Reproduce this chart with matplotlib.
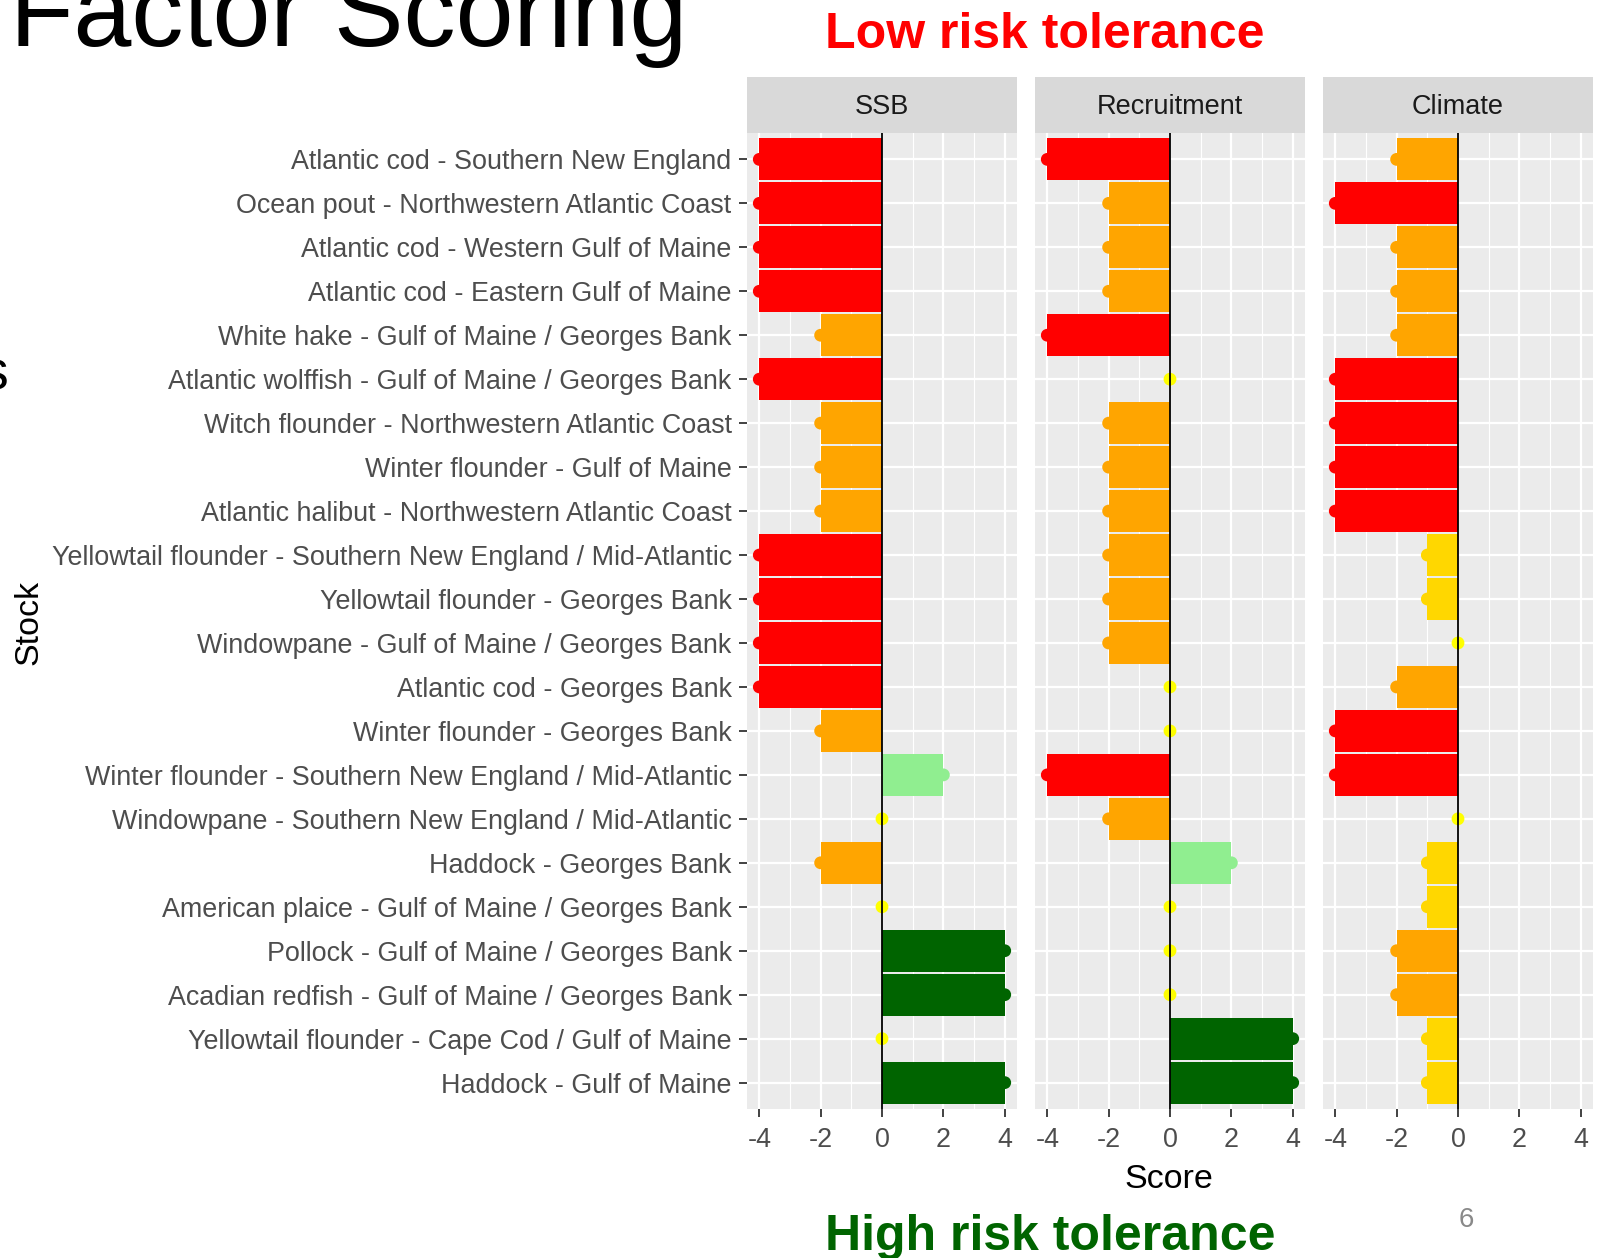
import numpy as np
import matplotlib
matplotlib.use("Agg")
import matplotlib.pyplot as plt

plt.rcParams['font.family'] = ['Liberation Sans', 'DejaVu Sans']
plt.rcParams['axes.unicode_minus'] = False

stocks = [
    "Atlantic cod - Southern New England",
    "Ocean pout - Northwestern Atlantic Coast",
    "Atlantic cod - Western Gulf of Maine",
    "Atlantic cod - Eastern Gulf of Maine",
    "White hake - Gulf of Maine / Georges Bank",
    "Atlantic wolffish - Gulf of Maine / Georges Bank",
    "Witch flounder - Northwestern Atlantic Coast",
    "Winter flounder - Gulf of Maine",
    "Atlantic halibut - Northwestern Atlantic Coast",
    "Yellowtail flounder - Southern New England / Mid-Atlantic",
    "Yellowtail flounder - Georges Bank",
    "Windowpane - Gulf of Maine / Georges Bank",
    "Atlantic cod - Georges Bank",
    "Winter flounder - Georges Bank",
    "Winter flounder - Southern New England / Mid-Atlantic",
    "Windowpane - Southern New England / Mid-Atlantic",
    "Haddock - Georges Bank",
    "American plaice - Gulf of Maine / Georges Bank",
    "Pollock - Gulf of Maine / Georges Bank",
    "Acadian redfish - Gulf of Maine / Georges Bank",
    "Yellowtail flounder - Cape Cod / Gulf of Maine",
    "Haddock - Gulf of Maine",
]
ssb = [-4, -4, -4, -4, -2, -4, -2, -2, -2, -4, -4, -4, -4, -2, 2, 0, -2, 0, 4, 4, 0, 4]
recruitment = [-4, -2, -2, -2, -4, 0, -2, -2, -2, -2, -2, -2, 0, 0, -4, -2, 2, 0, 0, 0, 4, 4]
climate = [-2, -4, -2, -2, -2, -4, -4, -4, -4, -1, -1, 0, -2, -4, -4, 0, -1, -1, -2, -2, -1, -1]
factors = ["SSB", "Recruitment", "Climate"]
x_ticks = [-4, -2, 0, 2, 4]

score_colors = {-4: "#FF0000", -2: "#FFA500", -1: "#FFD700", 0: "#FFFF00",
                2: "#90EE90", 4: "#006400"}

W, H = 1611, 1258
fig = plt.figure(figsize=(W / 100, H / 100), dpi=100)
fig.patch.set_facecolor("white")

panel_left = [747, 1035, 1323]
panel_w = 270
top, bottom = 133, 1109
strip_top = 77
ypos = np.arange(len(stocks))

for k, (name, vals) in enumerate(zip(factors, [ssb, recruitment, climate])):
    x0 = panel_left[k]
    ax = fig.add_axes([x0 / W, 1 - bottom / H, panel_w / W, (bottom - top) / H])
    ax.set_facecolor("#EBEBEB")
    ax.set_axisbelow(True)
    cols = [score_colors[v] for v in vals]
    ax.barh(ypos, vals, height=0.95, color=cols, zorder=2)
    ax.scatter(vals, ypos, c=cols, s=85, zorder=3, linewidths=0)
    ax.axvline(0, color="black", lw=1.3, zorder=4)
    ax.set_xlim(-4.4, 4.4)
    ax.set_ylim(len(stocks) - 0.4, -0.6)
    ax.set_xticks(x_ticks)
    ax.set_xticks([-3, -1, 1, 3], minor=True)
    ax.set_yticks(ypos)
    ax.grid(which="major", color="white", lw=1.6)
    ax.grid(which="minor", axis="x", color="white", lw=0.8)
    ax.tick_params(which="minor", length=0)
    ax.tick_params(which="major", length=6, width=1.3, color="#333333",
                   labelsize=19.35, labelcolor="#4D4D4D", pad=5)
    ax.tick_params(axis="x", pad=7)
    if k == 0:
        ax.set_yticklabels(stocks)
    else:
        ax.tick_params(axis="y", length=0, labelleft=False)
    for s in ax.spines.values():
        s.set_visible(False)

    sax = fig.add_axes([x0 / W, 1 - top / H, panel_w / W, (top - strip_top) / H])
    sax.set_facecolor("#D9D9D9")
    sax.set_xticks([])
    sax.set_yticks([])
    for s in sax.spines.values():
        s.set_visible(False)
    sax.text(0.5, 0.46, name, ha="center", va="center", fontsize=19.5,
             color="#1A1A1A", transform=sax.transAxes)

fig.text(1169 / W, 1 - 1179 / H, "Score", ha="center", va="center", fontsize=24.5)
fig.text(29 / W, 1 - 622 / H, "Stock", ha="center", va="center", fontsize=24.5,
         rotation=90)

fig.text(10 / W, 1 - 46 / H, "Factor Scoring", ha="left", va="baseline",
         fontsize=75, color="black")
fig.text(8 / W, 1 - 375 / H, "s", ha="right", va="center", fontsize=40,
         color="black")
fig.text(825 / W, 1 - 48 / H, "Low risk tolerance", ha="left", va="baseline",
         fontsize=36, fontweight="bold", color="#FF0000")
fig.text(825 / W, 1 - 1250 / H, "High risk tolerance", ha="left", va="baseline",
         fontsize=36, fontweight="bold", color="#006400")
fig.text(1466 / W, 1 - 1220 / H, "6", ha="center", va="center", fontsize=20,
         color="#898989")

fig.savefig("out.png", dpi=100)
